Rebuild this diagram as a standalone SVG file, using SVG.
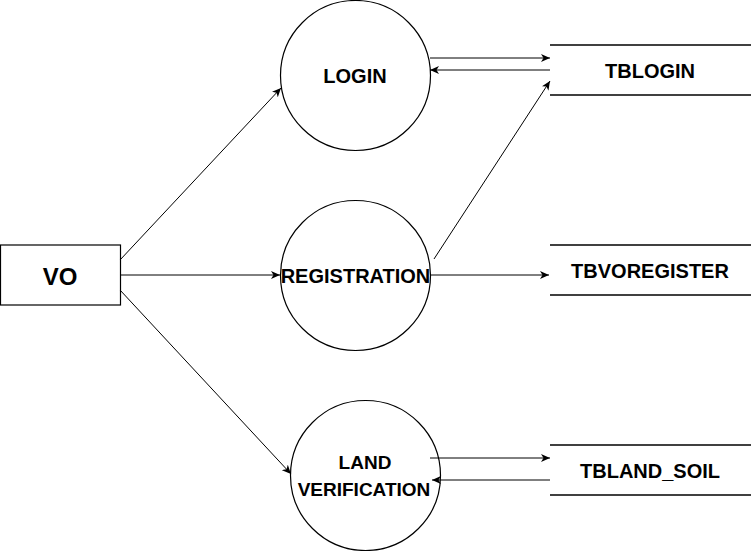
<svg xmlns="http://www.w3.org/2000/svg" width="751" height="551" viewBox="0 0 751 551">
<style>
.shape{fill:#fff;stroke:#000;stroke-width:1.2}
.store{stroke:#000;stroke-width:1.3}
.lbl{font-family:"Liberation Sans",Arial,sans-serif;font-weight:bold;font-size:20px;fill:#000;text-anchor:middle}
.edge{fill:none;stroke:#000;stroke-width:1;marker-end:url(#arr)}
</style>
<defs>
<marker id="arr" markerUnits="userSpaceOnUse" markerWidth="10" markerHeight="8" refX="9" refY="4" orient="auto">
<path d="M0,0 L9,4 L0,8 L2.5,4 Z" fill="#000"/>
</marker>
</defs>
<rect width="751" height="551" fill="#fff"/>
<g id="vo">
<rect class="shape" x="0.5" y="245" width="120" height="60" stroke-width="1.5"/>
<text class="lbl" x="60" y="285" style="font-size:24px">VO</text>
</g>
<g id="login">
<circle class="shape" cx="355.5" cy="75.5" r="75"/>
<text class="lbl" x="355" y="83">LOGIN</text>
</g>
<g id="registration">
<circle class="shape" cx="355.5" cy="275.5" r="75"/>
<text class="lbl" x="355.5" y="283">REGISTRATION</text>
</g>
<g id="landverification">
<circle class="shape" cx="365.5" cy="475.5" r="75"/>
<text class="lbl" x="365" y="469" style="font-size:19px">LAND</text>
<text class="lbl" x="364" y="496" style="font-size:19px">VERIFICATION</text>
</g>
<g id="tblogin">
<line class="store" x1="550" y1="45" x2="751" y2="45"/>
<line class="store" x1="550" y1="95" x2="751" y2="95"/>
<text class="lbl" x="650" y="78">TBLOGIN</text>
</g>
<g id="tbvoregister">
<line class="store" x1="550" y1="245" x2="751" y2="245"/>
<line class="store" x1="550" y1="295" x2="751" y2="295"/>
<text class="lbl" x="650" y="278">TBVOREGISTER</text>
</g>
<g id="tbland_soil">
<line class="store" x1="550" y1="445" x2="751" y2="445"/>
<line class="store" x1="550" y1="495" x2="751" y2="495"/>
<text class="lbl" x="650" y="478">TBLAND_SOIL</text>
</g>
<g id="connectors">
<path class="edge" d="M120,260 L281,88"/>
<path class="edge" d="M120,275 L280,275"/>
<path class="edge" d="M120,290 L291,474"/>
<path class="edge" d="M430,58 L550,58"/>
<path class="edge" d="M550,70 L430,70"/>
<path class="edge" d="M434,259 L550,81"/>
<path class="edge" d="M430,275 L549,275"/>
<path class="edge" d="M430,458 L550,458"/>
<path class="edge" d="M550,480 L432,480"/>
</g>
</svg>
